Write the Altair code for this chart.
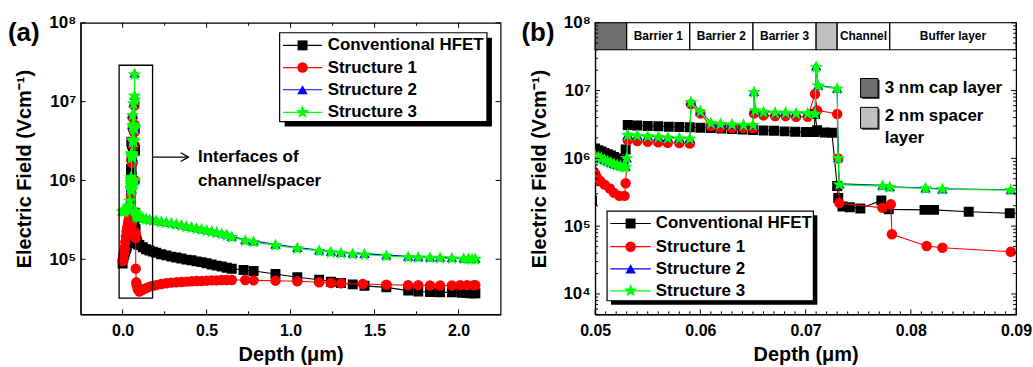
import altair as alt
import numpy as np
import pandas as pd

FONT = "Liberation Sans"
W_A, W_B, H = 422, 423, 293

STAR = ("M0,-1L0.247,-0.34L0.951,-0.309L0.4,0.13L0.588,0.809L0,0.42L-0.588,0.809"
        "L-0.4,0.13L-0.951,-0.309L-0.247,-0.34Z")
SERIES = ["Conventional HFET", "Structure 1", "Structure 2", "Structure 3"]
COLORS = ["#000000", "#ff0000", "#0000ff", "#00ff00"]
SHAPES = ["square", "circle", "triangle-up", STAR]
SIZES = [100, 110, 110, 200]

# ---------------- data: surface region (0 - 0.05 um) ----------------
conv_x_surf = [0.000, 0.005, 0.010, 0.015, 0.020, 0.025, 0.030, 0.035, 0.040, 0.045, 0.0497]
conv_y_surf = [8.8e4, 1.05e5, 1.15e5, 1.25e5, 1.35e5, 1.45e5, 1.6e5, 1.75e5, 1.9e5, 2.1e5, 2.4e5]
s1_x_surf = [0.000, 0.004, 0.008, 0.012, 0.016, 0.020, 0.024, 0.028, 0.032, 0.036, 0.040, 0.044, 0.0497]
s1_y_surf = [9.5e4, 1.05e5, 1.2e5, 1.4e5, 1.65e5, 1.95e5, 2.25e5, 2.55e5, 2.85e5, 3.1e5, 3.4e5, 3.8e5, 6.5e5]
s23_x_surf = [0.000, 0.006, 0.012, 0.018, 0.024, 0.030, 0.036, 0.042, 0.0497]
s2_y_surf = [4.1e5, 4.15e5, 4.2e5, 4.3e5, 4.4e5, 4.6e5, 4.9e5, 5.6e5, 8.2e5]
s3_y_surf = [4.0e5, 4.05e5, 4.1e5, 4.2e5, 4.3e5, 4.5e5, 4.8e5, 5.5e5, 8.0e5]

# ---------------- data: heterostructure region (0.05 - 0.09 um) ----------------
conv_x_het = [0.0500, 0.0503, 0.0506, 0.0509, 0.0512, 0.0515, 0.0518, 0.0521, 0.0524, 0.0527,
              0.0529, 0.0531, 0.0540, 0.0550, 0.0560, 0.0570, 0.0580, 0.0590, 0.0600, 0.0610,
              0.0620, 0.0630, 0.0640, 0.0650, 0.0660, 0.0670, 0.0680, 0.0690, 0.0700, 0.0708,
              0.0709, 0.0711, 0.0718, 0.0725, 0.0730, 0.0731, 0.0735, 0.0742, 0.0752, 0.0772,
              0.0779, 0.0813, 0.0822, 0.0855, 0.0894]
conv_y_het = [1.4e6, 1.32e6, 1.26e6, 1.2e6, 1.15e6, 1.1e6, 1.05e6, 1.0e6, 9.6e5, 9.3e5,
              1.35e6, 3.1e6, 3.05e6, 3.0e6, 2.97e6, 2.93e6, 2.9e6, 2.87e6, 2.83e6, 2.8e6,
              2.75e6, 2.7e6, 2.66e6, 2.62e6, 2.58e6, 2.55e6, 2.5e6, 2.47e6, 2.45e6, 2.45e6,
              4.5e6, 2.6e6, 2.4e6, 2.38e6, 3.9e5, 2.6e5, 1.95e5, 1.9e5, 1.82e5, 2.4e5,
              1.77e5, 1.74e5, 1.74e5, 1.63e5, 1.55e5]
s1_x_het = [0.0500, 0.0502, 0.0505, 0.0509, 0.0514, 0.0518, 0.0523, 0.0528, 0.0529, 0.0531,
            0.0540, 0.0550, 0.0560, 0.0569, 0.0580, 0.0590, 0.0591, 0.0600, 0.0610, 0.0619,
            0.0630, 0.0641, 0.0650, 0.0651, 0.0660, 0.0671, 0.0681, 0.0691, 0.0702, 0.0709,
            0.0711, 0.0730, 0.0731, 0.0732, 0.0773, 0.0781, 0.0782, 0.0815, 0.0830, 0.0895]
s1_y_het = [6.0e5, 5.2e5, 4.6e5, 4.1e5, 3.6e5, 3.1e5, 2.8e5, 2.8e5, 4.3e5, 1.85e6,
            1.8e6, 1.75e6, 1.72e6, 1.7e6, 1.68e6, 1.66e6, 6.3e6, 4.6e6, 3.0e6, 2.85e6,
            2.8e6, 2.8e6, 2.8e6, 4.6e6, 4.3e6, 4.2e6, 4.2e6, 4.1e6, 4.1e6, 8.9e6,
            5.1e6, 4.5e6, 1.0e6, 2.2e5, 1.86e5, 2.1e5, 7.6e4, 5.1e4, 4.8e4, 4.2e4]
s23_x_het = [0.0500, 0.0503, 0.0506, 0.0509, 0.0512, 0.0515, 0.0518, 0.0521, 0.0524, 0.0527,
             0.0529, 0.0530, 0.0531, 0.0540, 0.0550, 0.0560, 0.0569, 0.0580, 0.0590, 0.0591,
             0.0600, 0.0610, 0.0619, 0.0630, 0.0641, 0.0650, 0.0651, 0.0652, 0.0660, 0.0671,
             0.0681, 0.0691, 0.0702, 0.0709, 0.0710, 0.0712, 0.0730, 0.0731, 0.0732, 0.0773,
             0.0780, 0.0814, 0.0830, 0.0895]
s2_y_het = [1.12e6, 1.06e6, 1.0e6, 9.6e5, 9.2e5, 8.8e5, 8.4e5, 8.1e5, 7.9e5, 7.7e5,
            7.6e5, 1.02e6, 2.25e6, 2.2e6, 2.15e6, 2.1e6, 2.05e6, 2.0e6, 1.98e6, 6.9e6,
            5.0e6, 3.35e6, 3.25e6, 3.2e6, 3.15e6, 3.15e6, 9.7e6, 5.2e6, 4.9e6, 4.8e6,
            4.8e6, 4.7e6, 4.7e6, 4.6e6, 2.3e7, 1.2e7, 1.08e7, 1.02e6, 4.2e5, 4.0e5,
            3.8e5, 3.65e5, 3.55e5, 3.45e5]
s3_y_het = [1.1e6, 1.04e6, 9.9e5, 9.4e5, 9.0e5, 8.6e5, 8.2e5, 7.9e5, 7.7e5, 7.5e5,
            7.4e5, 1.0e6, 2.2e6, 2.15e6, 2.1e6, 2.05e6, 2.0e6, 1.96e6, 1.94e6, 6.7e6,
            4.9e6, 3.3e6, 3.2e6, 3.15e6, 3.1e6, 3.1e6, 9.4e6, 5.1e6, 4.8e6, 4.7e6,
            4.7e6, 4.6e6, 4.6e6, 4.5e6, 2.2e7, 1.18e7, 1.06e7, 1.0e6, 4.1e5, 3.9e5,
            3.75e5, 3.6e5, 3.5e5, 3.4e5]

# ---------------- data: buffer region (0.1 - 2.1 um) ----------------
conv_x_buf = [0.100, 0.120, 0.140, 0.160, 0.180, 0.200, 0.230, 0.260, 0.290, 0.320, 0.350, 0.380,
              0.410, 0.440, 0.470, 0.500, 0.530, 0.560, 0.590, 0.620, 0.650, 0.720, 0.780, 0.910,
              1.040, 1.170, 1.240, 1.300, 1.370, 1.440, 1.570, 1.700, 1.760, 1.830, 1.890, 1.960,
              2.020, 2.050, 2.070, 2.090, 2.100]
conv_y_buf = [1.52e5, 1.42e5, 1.34e5, 1.29e5, 1.25e5, 1.21e5, 1.16e5, 1.12e5, 1.08e5, 1.05e5, 1.02e5, 9.9e4,
              9.7e4, 9.4e4, 9.2e4, 8.9e4, 8.6e4, 8.3e4, 8.1e4, 7.8e4, 7.6e4, 7.3e4, 7.1e4, 6.5e4,
              5.9e4, 5.5e4, 5.2e4, 5.0e4, 4.8e4, 4.6e4, 4.4e4, 4.0e4, 3.9e4, 3.85e4, 3.8e4, 3.8e4,
              3.75e4, 3.75e4, 3.7e4, 3.7e4, 3.7e4]
s1_x_buf = [0.100, 0.120, 0.140, 0.160, 0.180, 0.200, 0.230, 0.260, 0.290, 0.320, 0.350, 0.380,
            0.410, 0.440, 0.470, 0.500, 0.530, 0.560, 0.590, 0.620, 0.650, 0.730, 0.780, 0.910,
            1.040, 1.170, 1.240, 1.300, 1.430, 1.570, 1.700, 1.760, 1.830, 1.890, 1.960, 2.010,
            2.050, 2.090, 2.100]
s1_y_buf = [3.9e4, 4.1e4, 4.3e4, 4.5e4, 4.6e4, 4.7e4, 4.85e4, 4.95e4, 5.05e4, 5.1e4, 5.15e4, 5.2e4,
            5.25e4, 5.3e4, 5.3e4, 5.35e4, 5.4e4, 5.4e4, 5.45e4, 5.45e4, 5.45e4, 5.45e4, 5.4e4, 5.35e4,
            5.25e4, 5.1e4, 5.0e4, 4.95e4, 4.85e4, 4.75e4, 4.7e4, 4.7e4, 4.65e4, 4.65e4, 4.65e4, 4.7e4,
            4.7e4, 4.7e4, 4.7e4]
s23_x_buf = [0.100, 0.120, 0.140, 0.160, 0.180, 0.200, 0.230, 0.260, 0.290, 0.320, 0.350, 0.380,
             0.410, 0.440, 0.470, 0.500, 0.530, 0.560, 0.590, 0.620, 0.650, 0.730, 0.780, 0.910,
             1.040, 1.170, 1.240, 1.300, 1.370, 1.440, 1.570, 1.700, 1.760, 1.830, 1.890, 1.960,
             2.030, 2.060, 2.080, 2.100]
s2_y_buf = [3.45e5, 3.38e5, 3.32e5, 3.25e5, 3.2e5, 3.15e5, 3.07e5, 2.99e5, 2.92e5, 2.85e5, 2.76e5, 2.67e5,
            2.6e5, 2.53e5, 2.45e5, 2.38e5, 2.31e5, 2.24e5, 2.17e5, 2.1e5, 1.96e5, 1.77e5, 1.7e5, 1.55e5,
            1.41e5, 1.31e5, 1.26e5, 1.23e5, 1.2e5, 1.18e5, 1.13e5, 1.09e5, 1.08e5, 1.07e5, 1.06e5, 1.05e5,
            1.04e5, 1.04e5, 1.03e5, 1.03e5]
s3_y_buf = [3.35e5, 3.28e5, 3.22e5, 3.15e5, 3.1e5, 3.05e5, 2.97e5, 2.9e5, 2.83e5, 2.75e5, 2.66e5, 2.58e5,
            2.51e5, 2.44e5, 2.37e5, 2.3e5, 2.23e5, 2.16e5, 2.09e5, 2.02e5, 1.9e5, 1.72e5, 1.65e5, 1.5e5,
            1.37e5, 1.27e5, 1.22e5, 1.19e5, 1.16e5, 1.14e5, 1.1e5, 1.06e5, 1.05e5, 1.04e5, 1.03e5, 1.02e5,
            1.01e5, 1.01e5, 1.0e5, 1.0e5]

# ---------------- layer structure (panel b header) ----------------
LAYER_EDGES = [0.05, 0.053, 0.059, 0.065, 0.071, 0.073, 0.078, 0.09]
LAYER_NAMES = ["", "Barrier 1", "Barrier 2", "Barrier 3", "", "Channel", "Buffer layer"]
LAYER_FILLS = ["#6e6e6e", "#ffffff", "#ffffff", "#ffffff", "#c0c0c0", "#ffffff", "#ffffff"]
HEADER_LO, HEADER_HI = 4.0e7, 1.0e8

# ---------------- ticks ----------------
XA_MAJOR = [0.0, 0.5, 1.0, 1.5, 2.0]
XA_MINOR = [0.25, 0.75, 1.25, 1.75]
YA_MAJOR = [1e5, 1e6, 1e7, 1e8]
YA_LABELS = ["10⁵", "10⁶", "10⁷", "10⁸"]
XB_MAJOR = [0.05, 0.06, 0.07, 0.08, 0.09]
XB_MINOR = [round(0.05 + 0.001 * i, 4) for i in range(1, 40) if i % 10 != 0]
YB_MAJOR = [1e4, 1e5, 1e6, 1e7, 1e8]
YB_LABELS = ["10⁴", "10⁵", "10⁶", "10⁷", "10⁸"]
YB_MINOR = [m * 10.0 ** e for e in range(3, 8) for m in range(2, 10) if 5e3 <= m * 10.0 ** e < 1e8]


def frame(xs, ys):
    return pd.DataFrame({"depth": xs, "field": ys, "ord": np.arange(len(xs))})


series_frames = [
    frame(conv_x_surf + conv_x_het + conv_x_buf, conv_y_surf + conv_y_het + conv_y_buf),
    frame(s1_x_surf + s1_x_het + s1_x_buf, s1_y_surf + s1_y_het + s1_y_buf),
    frame(s23_x_surf + s23_x_het + s23_x_buf, s2_y_surf + s2_y_het + s2_y_buf),
    frame(s23_x_surf + s23_x_het + s23_x_buf, s3_y_surf + s3_y_het + s3_y_buf),
]

ONE = pd.DataFrame({"k": [0]})


def label_expr(values, labels):
    expr = "''"
    for v, l in zip(values, labels):
        expr = f"(datum.value > {v * 0.5} && datum.value < {v * 2}) ? '{l}' : " + expr
    return expr


def axis_x(values, fmt):
    return alt.Axis(title="Depth (μm)", values=values, format=fmt, ticks=False, grid=False,
                    labelFlush=False, labelFont=FONT, labelFontSize=16, labelFontWeight="bold",
                    labelColor="black", labelPadding=8, titleFont=FONT, titleFontSize=20,
                    titleFontWeight="bold", titleColor="black", titlePadding=6,
                    domainColor="black", domainWidth=1.2)


def axis_y(values, labels):
    return alt.Axis(title="Electric Field (Vcm⁻¹)", values=values,
                    labelExpr=label_expr(values, labels),
                    ticks=False, grid=False, labelFlush=False, labelFont=FONT, labelFontSize=17,
                    labelFontWeight="bold", labelColor="black", labelPadding=5,
                    titleFont=FONT, titleFontSize=20, titleFontWeight="bold", titleColor="black",
                    titlePadding=14, domainColor="black", domainWidth=1.2)


def build_panel(width, xdom, ydom, xmaj, xmin, xfmt, ymaj, ylab, ymin, top_ticks):
    xs = alt.Scale(domain=xdom, nice=False, zero=False)
    ys = alt.Scale(type="log", domain=ydom, nice=False)
    ax, ay = axis_x(xmaj, xfmt), axis_y(ymaj, ylab)

    def X(f):
        return alt.X(f"{f}:Q", scale=xs, axis=ax)

    def Y(f):
        return alt.Y(f"{f}:Q", scale=ys, axis=ay)

    layers = []
    for df, col, shp, sz in zip(series_frames, COLORS, SHAPES, SIZES):
        base = alt.Chart(df)
        layers.append(base.mark_line(color=col, strokeWidth=1.1, clip=True).encode(
            x=X("depth"), y=Y("field"), order="ord:Q"))
        layers.append(base.mark_point(shape=shp, filled=True, size=sz, color=col, opacity=1,
                                      strokeWidth=0, clip=True).encode(x=X("depth"), y=Y("field")))

    def xt(vals, length):
        d = pd.DataFrame({"depth": vals})
        out = [alt.Chart(d).mark_rule(color="black", strokeWidth=1).encode(
            x=X("depth"), y=alt.value(H), y2=alt.value(H - length))]
        if top_ticks:
            out.append(alt.Chart(d).mark_rule(color="black", strokeWidth=1).encode(
                x=X("depth"), y=alt.value(0), y2=alt.value(length)))
        return out

    def yt(vals, length):
        d = pd.DataFrame({"field": vals})
        return [alt.Chart(d).mark_rule(color="black", strokeWidth=1).encode(
                    y=Y("field"), x=alt.value(0), x2=alt.value(length)),
                alt.Chart(d).mark_rule(color="black", strokeWidth=1).encode(
                    y=Y("field"), x=alt.value(width), x2=alt.value(width - length))]

    ticks = xt(xmaj, 5) + yt(ymaj, 5)
    if xmin:
        ticks += xt(xmin, 3)
    if ymin:
        ticks += yt(ymin, 3)
    return X, Y, layers, ticks


def legend_layers(x0, x1, y0, y1, shadow, lx0, lx1, tx, ys):
    out = [
        alt.Chart(ONE).mark_rect(color="black").encode(
            x=alt.value(x0 + shadow), x2=alt.value(x1 + shadow),
            y=alt.value(y0 + shadow), y2=alt.value(y1 + shadow)),
        alt.Chart(ONE).mark_rect(fill="white", stroke="black", strokeWidth=1.2).encode(
            x=alt.value(x0), x2=alt.value(x1), y=alt.value(y0), y2=alt.value(y1)),
    ]
    for name, col, shp, sz, yy in zip(SERIES, COLORS, SHAPES, SIZES, ys):
        out.append(alt.Chart(ONE).mark_rule(color=col, strokeWidth=1.2).encode(
            x=alt.value(lx0), x2=alt.value(lx1), y=alt.value(yy)))
        out.append(alt.Chart(ONE).mark_point(shape=shp, filled=True, size=sz, color=col, opacity=1,
                                             strokeWidth=0).encode(
            x=alt.value((lx0 + lx1) / 2), y=alt.value(yy)))
        out.append(alt.Chart(ONE).mark_text(text=name, align="left", baseline="middle", font=FONT,
                                            fontSize=17, fontWeight="bold", color="black").encode(
            x=alt.value(tx), y=alt.value(yy)))
    return out


def label(txt, x, y, size=17, align="left"):
    return alt.Chart(ONE).mark_text(text=txt, align=align, baseline="middle", font=FONT,
                                    fontSize=size, fontWeight="bold", color="black").encode(
        x=alt.value(x), y=alt.value(y))


def seg(x1, y1, x2, y2, w=1.2):
    return alt.Chart(ONE).mark_rule(color="black", strokeWidth=w).encode(
        x=alt.value(x1), y=alt.value(y1), x2=alt.value(x2), y2=alt.value(y2))


# ---------------- panel (a) ----------------
Xa, Ya, ser_a, ticks_a = build_panel(W_A, [-0.25, 2.25], [2e4, 1e8], XA_MAJOR, XA_MINOR, ".1f",
                                     YA_MAJOR, YA_LABELS, None, True)
annot_a = [
    alt.Chart(ONE).mark_rect(fillOpacity=0, stroke="black", strokeWidth=1.3).encode(
        x=alt.value(38.7), x2=alt.value(72.3), y=alt.value(42.7), y2=alt.value(276.7)),
    seg(72.3, 135, 108.5, 135), seg(108.5, 135, 100.5, 130.5), seg(108.5, 135, 100.5, 139.5),
    label("Interfaces of", 118, 135),
    label("channel/spacer", 118, 159),
    label("(a)", -73, 10, size=26),
]
leg_a = legend_layers(200, 408.3, 10, 99.3, 5, 203.3, 242.7, 248.3, [22.7, 45, 67.3, 90])
panel_a = alt.layer(*ser_a, *annot_a, *leg_a, *ticks_a).properties(width=W_A, height=H)

# ---------------- panel (b) ----------------
Xb, Yb, ser_b, ticks_b = build_panel(W_B, [0.05, 0.09], [5e3, 1e8], XB_MAJOR, XB_MINOR, ".2f",
                                     YB_MAJOR, YB_LABELS, YB_MINOR, False)
hdr = pd.DataFrame({"x0": LAYER_EDGES[:-1], "x1": LAYER_EDGES[1:], "name": LAYER_NAMES,
                    "fill": LAYER_FILLS, "lo": HEADER_LO, "hi": HEADER_HI})
hdr["mid"] = (hdr["x0"] + hdr["x1"]) / 2
hdr["ym"] = np.sqrt(hdr["lo"] * hdr["hi"])
header = [
    alt.Chart(hdr).mark_rect(stroke="black", strokeWidth=1.2).encode(
        x=Xb("x0"), x2="x1", y=Yb("lo"), y2="hi", fill=alt.Fill("fill:N", scale=None)),
    alt.Chart(hdr).mark_text(font=FONT, fontSize=12, fontWeight="bold", color="black").encode(
        x=Xb("mid"), y=Yb("ym"), text="name:N"),
]
side = [
    alt.Chart(ONE).mark_rect(color="#333333").encode(
        x=alt.value(268.2), x2=alt.value(285.8), y=alt.value(57.5), y2=alt.value(76.5)),
    alt.Chart(ONE).mark_rect(fill="#6e6e6e", stroke="black", strokeWidth=1).encode(
        x=alt.value(266.7), x2=alt.value(284.3), y=alt.value(56), y2=alt.value(75)),
    alt.Chart(ONE).mark_rect(color="#333333").encode(
        x=alt.value(268.2), x2=alt.value(285.8), y=alt.value(86.5), y2=alt.value(107.5)),
    alt.Chart(ONE).mark_rect(fill="#c0c0c0", stroke="black", strokeWidth=1).encode(
        x=alt.value(266.7), x2=alt.value(284.3), y=alt.value(85), y2=alt.value(106)),
    label("3 nm cap layer", 291, 65.7),
    label("2 nm spacer", 291, 94),
    label("layer", 291, 115.5),
    label("(b)", -74, 10, size=26),
]
leg_b = legend_layers(12, 219.3, 189.3, 279.3, 4, 15.3, 56, 61, [201.7, 225, 247.3, 269.3])
panel_b = alt.layer(*header, *ser_b, *side, *leg_b, *ticks_b).properties(width=W_B, height=H)

chart = alt.hconcat(panel_a, panel_b, spacing=18).properties(
    padding={"left": 7, "top": 12, "right": 0, "bottom": 0},
    background="white",
).configure_view(stroke="black", strokeWidth=1.2)

chart.save("out.html", embed_options={"renderer": "svg", "actions": False})
